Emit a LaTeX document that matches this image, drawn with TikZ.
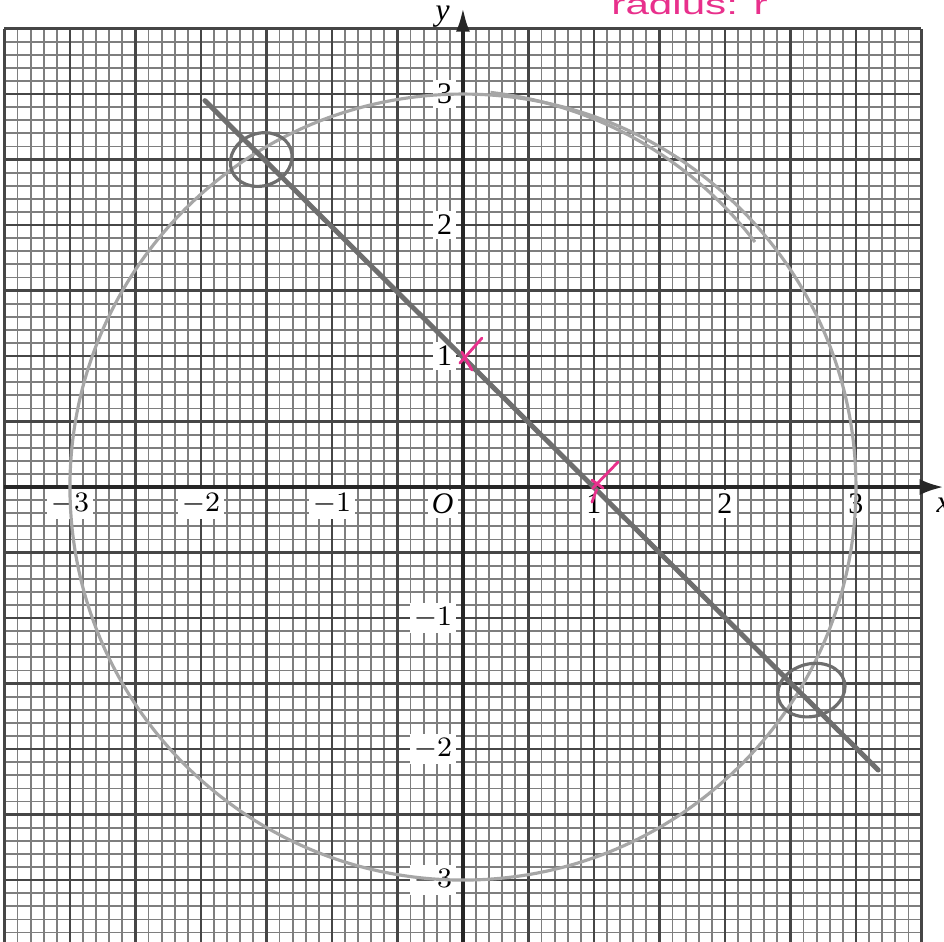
\documentclass[tikz,border=0pt]{standalone}
\usepackage{fontspec}
\setmainfont{Liberation Serif}
\newfontfamily\handfont{Liberation Sans}
\usetikzlibrary{arrows.meta, calc}
\usepackage{xcolor}
\definecolor{gridcolor}{RGB}{70,70,70}
\definecolor{pencil}{RGB}{150,150,150}
\definecolor{pencildark}{RGB}{110,110,110}
\definecolor{inkpink}{RGB}{232,48,140}
\tikzset{
  finegrid/.style  = {draw=gridcolor!70, line width=0.5pt},
  majorgrid/.style = {draw=gridcolor, line width=0.8pt},
  axis/.style      = {draw=black!85, line width=1.1pt},
  lbl/.style       = {fill=white, inner sep=1.2pt, font=\fontsize{8.5}{10}\selectfont},
  circ/.style      = {draw=pencil!85, line width=0.9pt},
  chord/.style     = {draw=pencildark, line width=1.4pt, line cap=round},
  ring/.style      = {draw=pencildark, line width=0.9pt},
  inkstroke/.style = {draw=inkpink, line width=0.8pt, line cap=round},
}

\begin{document}
\begin{tikzpicture}[x=1.31cm, y=1.31cm]
  \useasboundingbox (-3.534,-3.466) rectangle (3.672,3.718);
  % graph paper
  \draw[finegrid] (-3.5,-3.5) grid[step=0.1] (3.5,3.5);
  \draw[majorgrid] (-3.5,-3.5) grid[step=0.5] (3.5,3.5);
  % tick labels
  \foreach \k/\t in {-3/$-3$, -2/$-2$, -1/$-1$, 1/1, 2/2, 3/3}
    \node[lbl] (xl\k) at (\k,-0.13) {\t};
  \foreach \k/\t in {-3/$-3$, -2/$-2$, -1/$-1$, 1/1, 2/2, 3/3}
    \node[lbl, anchor=east] (yl\k) at (-0.045,\k) {\t};
  \node[lbl] (orig) at (-0.155,-0.13) {\textit{O}};
  % axes
  \draw[axis, -{Latex[length=2.4mm, width=1.6mm]}] (-3.5,0) -- (3.67,0);
  \draw[axis, -{Latex[length=2.4mm, width=1.4mm]}] (0,-3.5) -- (0,3.66);
  \node[inner sep=0pt, anchor=west, font=\fontsize{9}{10}\selectfont] (xname) at (3.61,-0.14) {\textit{x}};
  \node[inner sep=0pt, font=\fontsize{9}{10}\selectfont] (yname) at (-0.155,3.59) {\textit{y}};
  % circle and line
  \draw[circ] (0,0) circle (3);
  \draw[circ] plot[domain=40:86, samples=40, smooth]
    ({(2.91+0.11*(\x-40)/46)*cos(\x)}, {(2.91+0.11*(\x-40)/46)*sin(\x)});
  \coordinate (A) at (-1.97,2.95);
  \coordinate (B) at (3.17,-2.16);
  \draw[chord] (A) -- (B);
  % intersections ringed
  \coordinate (P) at (-1.54,2.50);
  \coordinate (Q) at (2.66,-1.55);
  \draw[ring, rotate around={20:(P)}] (P) ellipse [x radius=0.24, y radius=0.2];
  \draw[ring, rotate around={15:(Q)}] (Q) ellipse [x radius=0.26, y radius=0.2];
  % pink crosses at intercepts
  \draw[inkstroke] (0.145,1.137) -- (-0.023,0.947);
  \draw[inkstroke] (-0.008,1.03) -- (0.069,0.893);
  \draw[inkstroke] (1.183,0.19) -- (0.99,-0.01);
  \draw[inkstroke] (0.985,0.053) -- (1.07,-0.008);
  \draw[inkstroke] (1.02,-0.02) -- (0.985,-0.115);
  \node[inkpink, inner sep=0pt, anchor=base, xscale=1.5,
        font=\handfont\fontsize{8}{9}\selectfont] (note) at (1.73,3.605) {radius: r};
\end{tikzpicture}
\end{document}
